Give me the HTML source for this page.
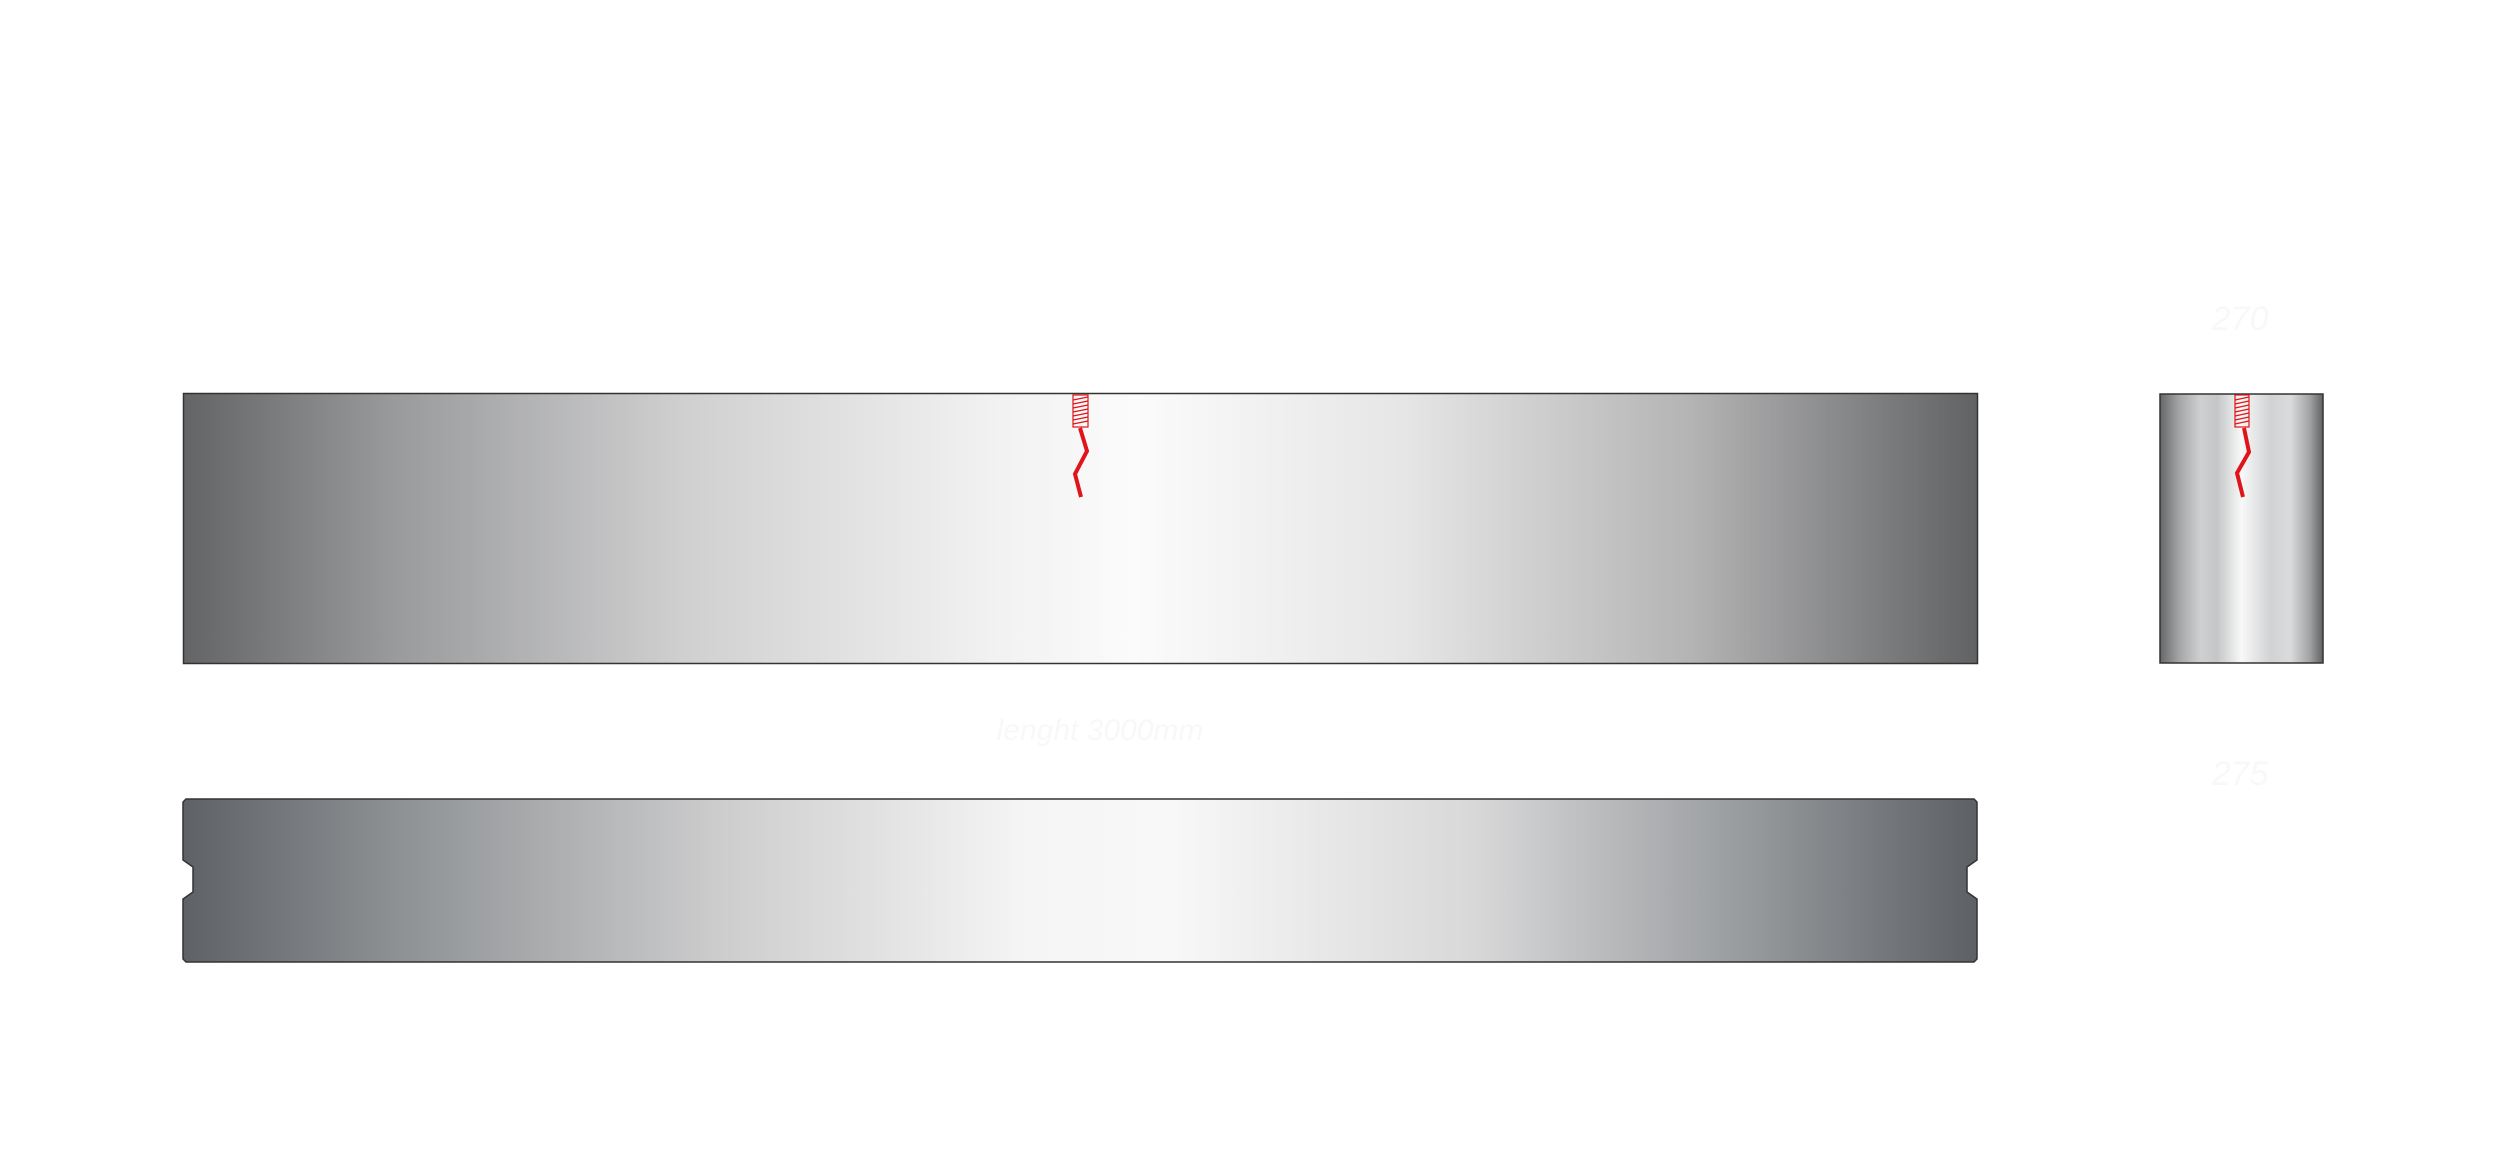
<!DOCTYPE html>
<html><head><meta charset="utf-8"><style>html,body{margin:0;padding:0;background:#fff;width:2500px;height:1158px;overflow:hidden}</style></head>
<body>
<svg width="2500" height="1158" viewBox="0 0 2500 1158" xmlns="http://www.w3.org/2000/svg">
<defs>
<linearGradient id="g1" x1="183" x2="1977" y1="0" y2="0" gradientUnits="userSpaceOnUse">
<stop offset="0" stop-color="#636466"/><stop offset="0.12" stop-color="#9a9b9d"/><stop offset="0.28" stop-color="#d0d0d1"/><stop offset="0.45" stop-color="#f1f1f1"/><stop offset="0.53" stop-color="#fbfbfb"/><stop offset="0.68" stop-color="#e6e6e6"/><stop offset="0.84" stop-color="#b4b4b5"/><stop offset="1" stop-color="#616264"/></linearGradient>
<linearGradient id="g2" x1="183" x2="1977" y1="0" y2="0" gradientUnits="userSpaceOnUse">
<stop offset="0" stop-color="#5e6266"/><stop offset="0.12" stop-color="#8e9194"/><stop offset="0.3" stop-color="#cdcdce"/><stop offset="0.47" stop-color="#f5f5f5"/><stop offset="0.55" stop-color="#f8f8f8"/><stop offset="0.72" stop-color="#d8d8d9"/><stop offset="0.88" stop-color="#94979a"/><stop offset="1" stop-color="#5d6064"/></linearGradient>
<linearGradient id="g3" x1="2160" x2="2323" y1="0" y2="0" gradientUnits="userSpaceOnUse">
<stop offset="0" stop-color="#666769"/><stop offset="0.12" stop-color="#a4a6a8"/><stop offset="0.25" stop-color="#cfd0d1"/><stop offset="0.35" stop-color="#c4c6c7"/><stop offset="0.5" stop-color="#f8f8f8"/><stop offset="0.68" stop-color="#d0d2d3"/><stop offset="0.8" stop-color="#dadbdc"/><stop offset="0.92" stop-color="#a0a2a4"/><stop offset="1" stop-color="#5f6163"/></linearGradient>
</defs>
<rect x="183.5" y="393.5" width="1794" height="270" fill="url(#g1)" stroke="#333" stroke-width="1.5"/>
<rect x="2160" y="394" width="163" height="269" fill="url(#g3)" stroke="#333" stroke-width="1.5"/>
<path d="M186,799 H1974 L1977,802 V860 L1967,867 V892 L1977,899 V959 L1974,962 H186 L183,959 V899 L193,892 V867 L183,860 V802 Z" fill="url(#g2)" stroke="#333" stroke-width="1.5"/>
<g stroke="#e0141b" fill="none">
<rect x="1073" y="395" width="15" height="32" stroke-width="1.2"/>
<path d="M1073,400 L1088,397 M1073,404 L1088,401 M1073,408 L1088,405 M1073,412 L1088,409 M1073,416 L1088,413 M1073,420 L1088,417 M1073,424 L1088,421" stroke-width="1.2"/>
<polyline points="1080,428 1087,451 1075,474 1081,497" stroke-width="4"/>
<rect x="2235" y="395" width="14" height="32" stroke-width="1.2"/>
<path d="M2235,400 L2249,397 M2235,404 L2249,401 M2235,408 L2249,405 M2235,412 L2249,409 M2235,416 L2249,413 M2235,420 L2249,417 M2235,424 L2249,421" stroke-width="1.2"/>
<polyline points="2244,428 2249,452 2237,473 2243,497" stroke-width="4"/>
</g>
<g fill="#f8f8f8" font-family="Liberation Sans, sans-serif" font-style="italic">
<text x="2240" y="330" font-size="34" text-anchor="middle">270</text>
<text x="2240" y="785" font-size="34" text-anchor="middle">275</text>
<text x="1100" y="740" font-size="30" text-anchor="middle">lenght 3000mm</text>
</g>
</svg>
</body></html>
